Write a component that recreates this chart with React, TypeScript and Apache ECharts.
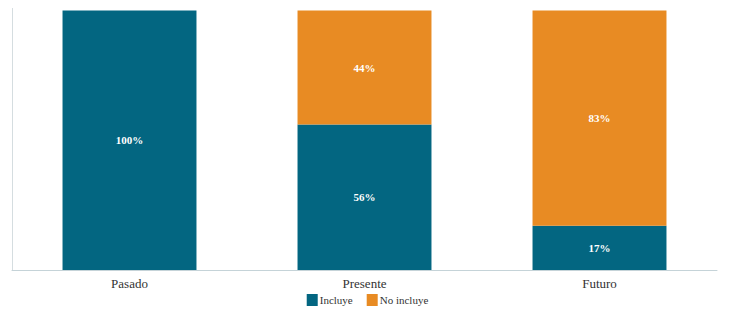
import React, { useEffect, useRef } from "react";
import * as echarts from "echarts";

const categories = ["Pasado", "Presente", "Futuro"];
const incluye = [100, 56, 17];
const noIncluye = [0, 44, 83];

export default function App() {
  const ref = useRef<HTMLDivElement>(null);
  useEffect(() => {
    const chart = echarts.init(ref.current!, null, { renderer: "svg" });
    const font = "Liberation Serif";
    const label = {
      show: true,
      position: "inside",
      color: "#ffffff",
      fontFamily: font,
      fontSize: 11,
      fontWeight: "bold",
      formatter: (p: any) => (p.value > 0 ? p.value + "%" : ""),
    };
    chart.setOption({
      animation: false,
      grid: { left: 12, right: 18, top: 0, bottom: 49, containLabel: false },
      legend: {
        bottom: 8,
        left: "center",
        itemWidth: 11,
        itemHeight: 12,
        itemGap: 14,
        icon: "rect",
        textStyle: { fontFamily: font, fontSize: 11, color: "#333", padding: [0, 0, 0, -3] },
        data: ["Incluye", "No incluye"],
      },
      xAxis: {
        type: "category",
        data: categories,
        axisLine: { show: true, lineStyle: { color: "#c5d3d8", width: 1 } },
        axisTick: { show: false },
        axisLabel: { fontFamily: font, fontSize: 13, color: "#333", margin: 7 },
      },
      yAxis: {
        type: "value",
        min: 0,
        max: 104,
        axisLine: { show: true, lineStyle: { color: "#d5dde0", width: 1 } },
        axisTick: { show: false },
        axisLabel: { show: false },
        splitLine: { show: false },
      },
      series: [
        {
          name: "Incluye",
          type: "bar",
          stack: "s",
          barWidth: "57%",
          data: incluye,
          itemStyle: { color: "#036681" },
          label,
        },
        {
          name: "No incluye",
          type: "bar",
          stack: "s",
          barWidth: "57%",
          data: noIncluye,
          itemStyle: { color: "#e88b23" },
          label,
        },
      ],
    });
    return () => chart.dispose();
  }, []);
  return <div ref={ref} style={{ width: 735, height: 319, margin: -8 }} />;
}
